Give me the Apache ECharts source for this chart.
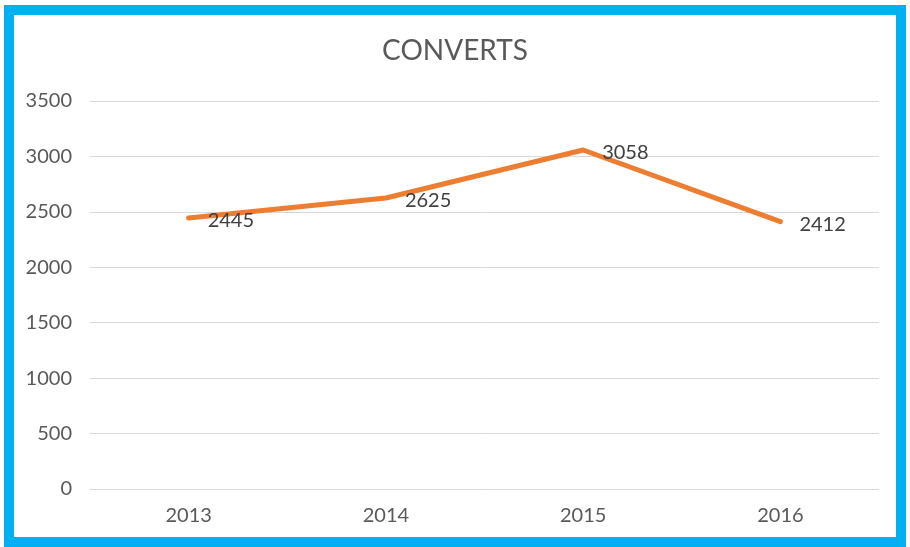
<!DOCTYPE html>
<html>
<head>
    <meta charset="utf-8">
    <title>CONVERTS</title>
    <script src="https://cdn.jsdelivr.net/npm/echarts@6/dist/echarts.min.js"></script>
    <style>
        html, body { margin: 0; padding: 0; background: #fff; }
        #chart { width: 910px; height: 547px; }
    </style>
</head>
<body>
<div id="chart"></div>
<script type="text/javascript">
    var years = ['2013', '2014', '2015', '2016'];
    var converts = [2445, 2625, 3058, 2412];
    var yTicks = [0, 500, 1000, 1500, 2000, 2500, 3000, 3500];

    var font = 'Lato, "Open Sans", sans-serif';
    var myChart = echarts.init(document.getElementById('chart'));
    var option = {
        backgroundColor: '#fff',
        animation: false,
        title: {
            text: 'CONVERTS',
            left: 'center',
            top: 32,
            textStyle: { fontFamily: font, fontSize: 28, fontWeight: 'normal', color: '#595959' }
        },
        grid: { left: 90, right: 31, top: 101, bottom: 58 },
        // blue frame round the chart
        graphic: [{
            type: 'rect',
            shape: { x: 9, y: 10, width: 892, height: 532 },
            style: { fill: 'none', stroke: '#00B0F0', lineWidth: 10 },
            z: 100
        }],
        xAxis: {
            type: 'category',
            data: years,
            boundaryGap: true,
            axisLine: { show: false },
            axisTick: { show: false },
            axisLabel: { fontFamily: font, fontSize: 20, color: '#595959', margin: 17 }
        },
        yAxis: {
            type: 'value',
            min: yTicks[0],
            max: yTicks[yTicks.length - 1],
            interval: 500,
            axisLine: { show: false },
            axisTick: { show: false },
            splitLine: { lineStyle: { color: '#d9d9d9', width: 1 } },
            axisLabel: {
                fontFamily: font, fontSize: 20, color: '#595959', margin: 18,
                formatter: function (v) { return String(v); }
            }
        },
        series: [{
            type: 'line',
            data: converts,
            symbol: 'circle',
            symbolSize: 2,
            showSymbol: true,
            itemStyle: { color: '#ED7D31', borderWidth: 0 },
            lineStyle: { color: '#ED7D31', width: 5, cap: 'round', join: 'round' },
            label: {
                show: true,
                position: 'right',
                distance: 18,
                offset: [0, 3],
                fontFamily: font,
                fontSize: 20,
                color: '#404040'
            }
        }]
    };
    myChart.setOption(option);
</script>
</body>
</html>
